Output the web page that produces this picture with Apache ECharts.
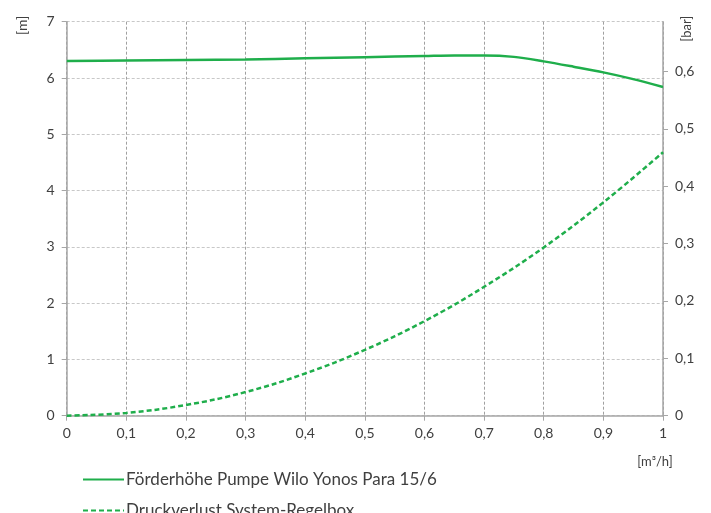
<!DOCTYPE html>
<html><head><meta charset="utf-8">
<script src="https://cdn.jsdelivr.net/npm/echarts@6/dist/echarts.min.js"></script>
<style>html,body{margin:0;padding:0;background:#fff}#c{width:711px;height:513px}</style>
</head><body><div id="c"></div>
<script>
const flow = [0, 0.1, 0.2, 0.3, 0.4, 0.5, 0.6, 0.65, 0.7, 0.75, 0.8, 0.85, 0.9, 0.95, 1.0];
const pumpHead = [6.30, 6.31, 6.32, 6.33, 6.35, 6.37, 6.39, 6.40, 6.40, 6.375, 6.295, 6.20, 6.10, 5.98, 5.84];
const lossFlow = [0, 0.1, 0.2, 0.3, 0.4, 0.5, 0.6, 0.7, 0.8, 0.9, 1.0];
const lossHead = [0, 0.05, 0.19, 0.42, 0.75, 1.17, 1.68, 2.29, 2.99, 3.79, 4.68];
const names = ['Förderhöhe Pumpe Wilo Yonos Para 15/6', 'Druckverlust System-Regelbox'];
const xTicks = ['0','0,1','0,2','0,3','0,4','0,5','0,6','0,7','0,8','0,9','1'];

const font = 'Lato, "Open Sans", sans-serif';
const txt = '#404040';
const green = '#1fae4b';
const fmt = v => String(Math.round(v*10)/10).replace('.', ',');

const chart = echarts.init(document.getElementById('c'));
chart.setOption({
  animation: false,
  textStyle: {fontFamily: font},
  grid: {left: 66.7, right: 48, top: 21.7, bottom: 97.3, containLabel: false},
  legend: {
    orient: 'vertical', left: 82, top: 471, height: 60, padding: 0,
    itemWidth: 41, itemHeight: 14, itemGap: 14,
    itemStyle: {color: 'rgba(0,0,0,0)', borderWidth: 0, opacity: 0},
    textStyle: {color: txt, fontSize: 17, lineHeight: 14, fontFamily: font, padding: [0,0,0,-3]},
    data: names
  },
  xAxis: {
    type: 'value', min: 0, max: 1, interval: 0.1,
    name: '[m³/h]', nameLocation: 'end', nameGap: 0,
    nameTextStyle: {color: txt, fontSize: 13, fontFamily: font, align: 'center', verticalAlign: 'top', padding: [40, 16, 0, 0]},
    axisLine: {lineStyle: {color: '#a6a6a6', width: 1.5}},
    axisTick: {show: true, length: 5, lineStyle: {color: '#a6a6a6'}},
    axisLabel: {color: txt, fontSize: 14, margin: 11, formatter: (v, i) => xTicks[i]},
    splitLine: {show: true, lineStyle: {color: '#a0a0a0', type: [3, 2]}}
  },
  yAxis: [{
    type: 'value', min: 0, max: 7, interval: 1,
    name: '[m]', nameLocation: 'end', nameRotate: 90, nameGap: 6,
    nameTextStyle: {color: txt, fontSize: 14, fontFamily: font, align: 'right', verticalAlign: 'bottom', padding: [0, 0, 37, 0]},
    axisLine: {show: true, lineStyle: {color: '#a6a6a6', width: 1.5}},
    axisTick: {show: true, length: 5, lineStyle: {color: '#a6a6a6'}},
    axisLabel: {color: txt, fontSize: 14, margin: 12},
    splitLine: {show: true, lineStyle: {color: '#c8c8c8', type: [3, 2]}}
  }, {
    type: 'value', min: 0, max: 7 * 0.0981, interval: 0.1, position: 'right',
    name: '[bar]', nameLocation: 'end', nameRotate: 90, nameGap: 6,
    nameTextStyle: {color: txt, fontSize: 13, fontFamily: font, align: 'right', verticalAlign: 'top', padding: [17, 0, 0, 0]},
    axisLine: {show: true, lineStyle: {color: '#a6a6a6', width: 1.5}},
    axisTick: {show: true, length: 5, lineStyle: {color: '#a6a6a6'}},
    axisLabel: {color: txt, fontSize: 14, margin: 12, formatter: fmt, showMaxLabel: false},
    splitLine: {show: false}
  }],
  series: [{
    name: names[0], type: 'line', yAxisIndex: 0, smooth: 0.3, symbol: 'none',
    lineStyle: {color: green, width: 2.5}, itemStyle: {color: green},
    data: flow.map((x, i) => [x, pumpHead[i]])
  }, {
    name: names[1], type: 'line', yAxisIndex: 0, smooth: 0.4, symbol: 'none',
    lineStyle: {color: green, width: 2.5, type: [5, 3]}, itemStyle: {color: green},
    data: lossFlow.map((x, i) => [x, lossHead[i]])
  }]
});
</script></body></html>
